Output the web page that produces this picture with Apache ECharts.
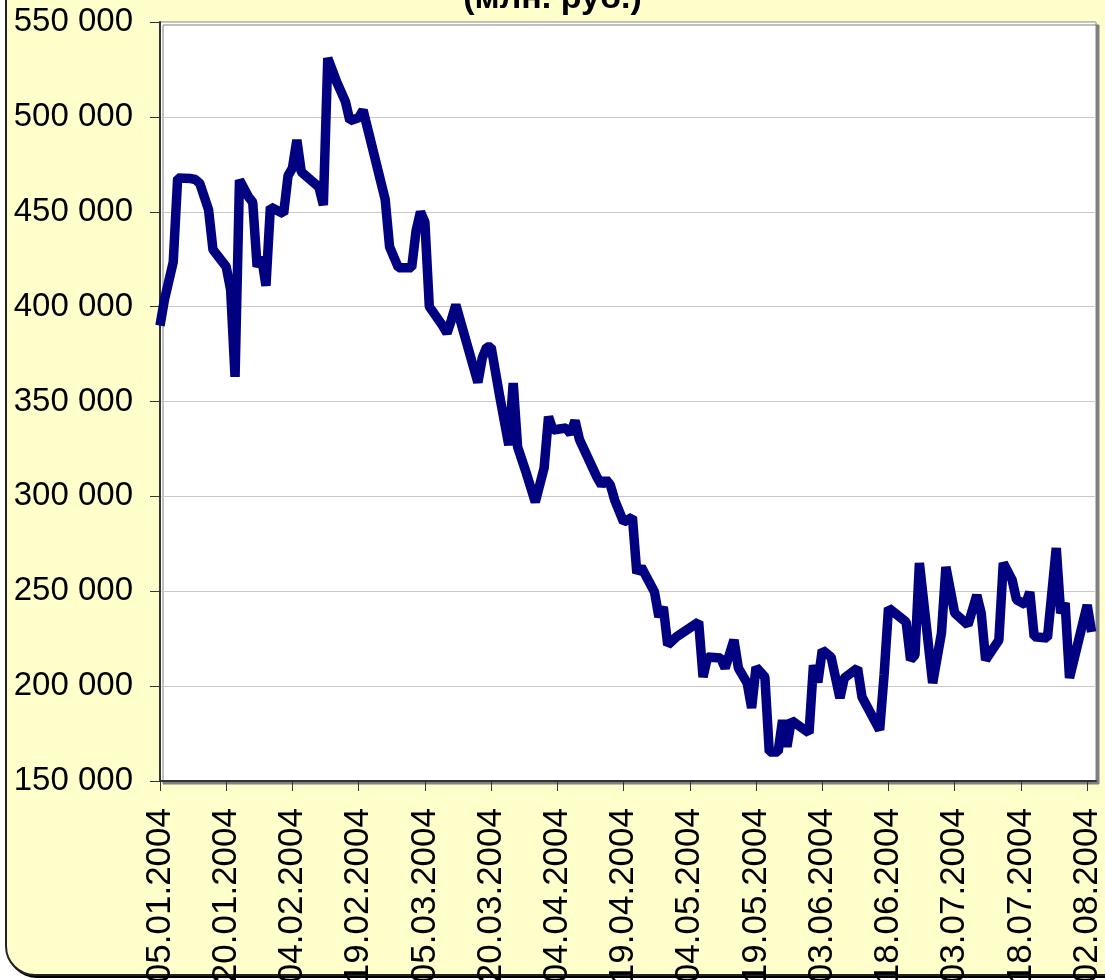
<!DOCTYPE html>
<html>
<head>
<meta charset="utf-8">
<script src="https://cdn.jsdelivr.net/npm/echarts@6/dist/echarts.min.js"></script>
<style>
  html, body { margin: 0; padding: 0; background: #ffffff; overflow: hidden; }
  #frame {
    position: absolute; left: 5px; top: -40px; width: 1130px; height: 1016px;
    background: #FFFFCC; border: 2px solid #222; border-radius: 30px;
    box-shadow: 2px 2px 0 #000; box-sizing: border-box;
  }
  #chart { position: absolute; left: 0; top: 0; width: 1105px; height: 980px; }
</style>
</head>
<body>
<div id="frame"></div>
<div id="chart"></div>
<script>
// Chart title (top line cropped in reference)
const titleText = '(млн. руб.)';

// Dates of observations
const dates = [
  '05.01.2004','06.01.2004','08.01.2004','09.01.2004','12.01.2004','13.01.2004','14.01.2004','16.01.2004','17.01.2004',
  '20.01.2004','21.01.2004','22.01.2004','23.01.2004','25.01.2004','26.01.2004','27.01.2004','28.01.2004','29.01.2004','30.01.2004',
  '02.02.2004','03.02.2004','04.02.2004','05.02.2004','06.02.2004','10.02.2004','11.02.2004','12.02.2004','14.02.2004','16.02.2004',
  '17.02.2004','19.02.2004','20.02.2004','25.02.2004','26.02.2004','28.02.2004',
  '02.03.2004','03.03.2004','04.03.2004','05.03.2004','06.03.2004','09.03.2004','10.03.2004','11.03.2004','12.03.2004',
  '17.03.2004','18.03.2004','19.03.2004','20.03.2004','22.03.2004','24.03.2004','25.03.2004','26.03.2004','28.03.2004','30.03.2004',
  '01.04.2004','02.04.2004','03.04.2004','06.04.2004','07.04.2004','08.04.2004','09.04.2004','13.04.2004','14.04.2004','15.04.2004',
  '16.04.2004','17.04.2004','19.04.2004','21.04.2004','22.04.2004','23.04.2004','26.04.2004','27.04.2004','28.04.2004','29.04.2004',
  '01.05.2004','06.05.2004','07.05.2004','08.05.2004','11.05.2004','12.05.2004','14.05.2004','15.05.2004','17.05.2004','18.05.2004',
  '19.05.2004','21.05.2004','22.05.2004','24.05.2004','25.05.2004','26.05.2004','27.05.2004','31.05.2004',
  '01.06.2004','02.06.2004','03.06.2004','05.06.2004','07.06.2004','08.06.2004','11.06.2004','12.06.2004','16.06.2004','17.06.2004',
  '18.06.2004','22.06.2004','23.06.2004','24.06.2004','25.06.2004','28.06.2004','30.06.2004',
  '01.07.2004','03.07.2004','06.07.2004','08.07.2004','09.07.2004','10.07.2004','13.07.2004','14.07.2004','16.07.2004','17.07.2004',
  '19.07.2004','20.07.2004','21.07.2004','24.07.2004','26.07.2004','27.07.2004','28.07.2004','29.07.2004',
  '02.08.2004','03.08.2004'
];

// Values (млн. руб.)
const values = [
  390000,403500,423500,467800,467500,467000,465000,451000,430000,
  421000,408800,363000,466700,458000,455000,421000,426000,411000,452500,
  449000,469000,473000,487800,471000,463000,453500,531000,518500,508000,
  498000,499500,503500,456500,431500,420500,
  420500,440000,450000,444500,400000,390000,386000,393000,401000,
  360000,373000,378700,378700,352000,327000,359700,326000,312000,297000,
  315000,342000,335000,336000,333000,340000,330000,310000,306000,309000,
  306000,298000,286500,289000,259600,262800,249600,236500,241700,221700,
  226000,233800,204800,215300,214800,209500,224300,209500,201600,188500,
  210000,204800,165300,165300,182000,168000,182000,175300,
  211000,202000,219000,215300,193700,204300,209500,194300,176900,205800,
  241200,233800,213800,216400,264900,201600,228000,
  262800,238500,232200,248000,238500,213800,224300,264900,256000,245500,
  243000,249600,226000,225400,272800,238500,243800,204300,
  242700,228500
];

// Axis settings
const startDate = '05.01.2004';
const endDate = '04.08.2004';
const xTickDays = 15;
const yMin = 150000, yMax = 550000, yStep = 50000;

const DAY = 86400000;
function parseD(s) { const p = s.split('.'); return Date.UTC(+p[2], +p[1] - 1, +p[0]); }
const t0 = parseD(startDate);
const dayOf = s => Math.round((parseD(s) - t0) / DAY);
const fmtDay = d => {
  const dt = new Date(t0 + d * DAY);
  const dd = String(dt.getUTCDate()).padStart(2, '0');
  const mm = String(dt.getUTCMonth() + 1).padStart(2, '0');
  return dd + '.' + mm + '.' + dt.getUTCFullYear();
};
const seriesData = dates.map((s, i) => [dayOf(s), values[i]]);
const fmtNum = v => String(v).replace(/\B(?=(\d{3})+(?!\d))/g, ' ');

const FONT = '"Liberation Sans", Arial, sans-serif';
const chart = echarts.init(document.getElementById('chart'), null, { renderer: 'canvas' });
chart.setOption({
  backgroundColor: 'transparent',
  animation: false,
  grid: {
    left: 160, right: 9, top: 22, bottom: 199,
    containLabel: false, outerBoundsMode: 'none',
    show: true, backgroundColor: '#ffffff',
    borderColor: '#808080', borderWidth: 1,
    shadowColor: '#808080', shadowOffsetX: 3, shadowOffsetY: 3, shadowBlur: 0
  },
  graphic: [{
    type: 'text', left: 'center', top: -18,
    style: { text: titleText, font: 'bold 34px ' + FONT, fill: '#000' }
  }],
  xAxis: {
    type: 'value', min: 0, max: dayOf(endDate), interval: xTickDays,
    axisLine: { show: true, lineStyle: { color: '#333', width: 2 } },
    axisTick: { show: true, length: 10, lineStyle: { color: '#333', width: 1 } },
    splitLine: { show: false },
    axisLabel: {
      rotate: 90, margin: 27, fontSize: 35, fontFamily: FONT, color: '#000',
      formatter: v => fmtDay(v), showMaxLabel: false, hideOverlap: false
    }
  },
  yAxis: {
    type: 'value', min: yMin, max: yMax, interval: yStep,
    axisLine: { show: true, lineStyle: { color: '#333', width: 2 } },
    axisTick: { show: true, length: 10, lineStyle: { color: '#333', width: 1 } },
    splitLine: { show: true, lineStyle: { color: '#C8C8C8', width: 1 } },
    axisLabel: { margin: 27, fontSize: 33, fontFamily: FONT, color: '#000', formatter: v => fmtNum(v) }
  },
  series: [{
    type: 'line', data: seriesData,
    showSymbol: false, symbol: 'none',
    lineStyle: { color: '#000080', width: 9.5 },
    clip: true
  }]
});
</script>
</body>
</html>
